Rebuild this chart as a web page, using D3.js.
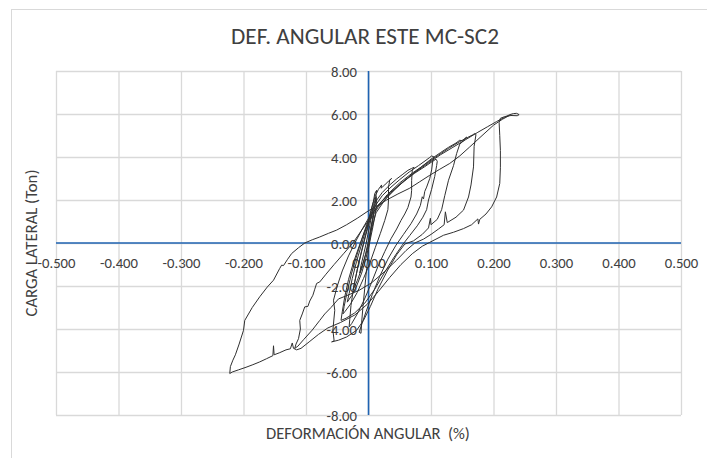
<!DOCTYPE html>
<html>
<head>
<meta charset="utf-8">
<script src="https://cdn.jsdelivr.net/npm/d3@7"></script>
<style>
  html, body { margin: 0; padding: 0; background: #fff; }
  svg { display: block; }
</style>
</head>
<body>
<svg id="chart" width="707" height="458"></svg>
<script>
// ---------- texts and ticks ----------
const titulo  = "DEF. ANGULAR ESTE MC-SC2";
const tituloX = "DEFORMACIÓN ANGULAR  (%)";
const tituloY = "CARGA LATERAL (Ton)";
const ticksX = [-0.5, -0.4, -0.3, -0.2, -0.1, 0, 0.1, 0.2, 0.3, 0.4, 0.5];
const ticksY = [-8, -6, -4, -2, 0, 2, 4, 6, 8];

// ---------- hysteresis record: [deformación angular (%), carga lateral (Ton)] ----------
const ciclo1 = [[0.000,0.00],[0.002,0.35],[0.004,0.75],[0.006,1.05],[0.008,1.30],[0.007,1.10],[0.004,0.55],[0.000,-0.05],[-0.004,-0.50],[-0.009,-0.95],[-0.014,-1.40],[-0.012,-1.05],[-0.008,-0.55],[-0.004,-0.05],[-0.001,0.40]];
const ciclo2 = [[0.002,0.80],[0.005,1.30],[0.008,1.75],[0.011,2.05],[0.012,2.15],[0.010,1.70],[0.006,1.00],[0.001,0.25],[-0.005,-0.55],[-0.011,-1.20],[-0.018,-1.75],[-0.025,-2.20],[-0.022,-1.80],[-0.017,-1.10],[-0.011,-0.35],[-0.005,0.35],[0.000,0.95]];
const ciclo3 = [[0.004,1.45],[0.008,1.95],[0.010,2.30],[0.013,2.45],[0.012,2.25],[0.013,1.90],[0.011,1.40],[0.007,0.75],[0.002,0.05],[-0.004,-0.70],[-0.011,-1.40],[-0.019,-2.00],[-0.027,-2.45],[-0.034,-2.75],[-0.031,-2.35],[-0.026,-1.65],[-0.019,-0.85],[-0.012,-0.15],[-0.005,0.55],[0.001,1.20]];
const ciclo4 = [[0.006,1.75],[0.011,2.20],[0.016,2.50],[0.021,2.70],[0.020,2.55],[0.026,2.70],[0.032,2.88],[0.037,3.00],[0.034,2.93],[0.032,2.60],[0.032,2.00],[0.031,1.55],[0.026,1.05],[0.019,0.45],[0.011,-0.20],[0.002,-0.95],[-0.008,-1.65],[-0.018,-2.30],[-0.029,-2.85],[-0.038,-3.20],[-0.041,-3.30],[-0.039,-2.95],[-0.034,-2.25],[-0.027,-1.40],[-0.019,-0.60],[-0.011,0.15],[-0.003,0.85]];
const ciclo5 = [[0.004,1.35],[0.012,1.95],[0.022,2.35],[0.034,2.70],[0.045,2.98],[0.055,3.20],[0.063,3.38],[0.069,3.47],[0.073,3.52],[0.070,3.40],[0.069,2.90],[0.069,2.45],[0.068,2.14],[0.063,1.65],[0.058,1.35],[0.052,1.05],[0.045,0.65],[0.036,0.20],[0.026,-0.40],[0.015,-1.10],[0.004,-1.90],[-0.007,-2.65],[-0.018,-3.30],[-0.027,-3.75],[-0.031,-3.90],[-0.030,-3.55],[-0.028,-2.90],[-0.024,-2.10],[-0.018,-1.25],[-0.011,-0.40],[-0.004,0.40],[0.002,1.05]];
const ciclo6 = [[0.010,1.70],[0.022,2.20],[0.036,2.60],[0.050,2.95],[0.065,3.30],[0.080,3.60],[0.092,3.85],[0.098,3.98],[0.101,4.05],[0.105,4.00],[0.103,3.85],[0.101,3.40],[0.098,3.00],[0.093,2.60],[0.090,2.40],[0.088,2.05],[0.086,2.15],[0.083,1.75],[0.077,1.35],[0.068,0.90],[0.056,0.40],[0.044,-0.10],[0.031,-0.75],[0.018,-1.55],[0.006,-2.40],[-0.004,-3.20],[-0.011,-3.80],[-0.015,-4.15],[-0.012,-4.20],[-0.011,-3.70],[-0.009,-3.00],[-0.006,-2.10],[-0.003,-1.20],[0.000,-0.30],[0.004,0.55]];
const ciclo7 = [[0.012,1.40],[0.026,2.00],[0.042,2.50],[0.058,2.90],[0.074,3.25],[0.090,3.55],[0.100,3.75],[0.108,3.90],[0.110,3.80],[0.109,3.60],[0.106,3.10],[0.101,2.50],[0.096,2.00],[0.093,1.55],[0.087,1.20],[0.078,0.80],[0.066,0.35],[0.054,-0.10],[0.040,-0.70],[0.025,-1.40],[0.010,-2.15],[-0.006,-2.80],[-0.022,-3.25],[-0.036,-3.50],[-0.044,-3.60],[-0.042,-3.20],[-0.038,-2.50],[-0.032,-1.70],[-0.024,-0.90],[-0.015,-0.15],[-0.006,0.55],[0.002,1.05]];
const ciclo8 = [[0.015,1.65],[0.032,2.20],[0.050,2.70],[0.068,3.15],[0.085,3.55],[0.100,3.90],[0.115,4.20],[0.128,4.45],[0.140,4.65],[0.146,4.78],[0.150,4.75],[0.157,4.93],[0.154,4.80],[0.146,4.60],[0.141,4.16],[0.136,3.60],[0.128,2.92],[0.122,2.20],[0.117,1.55],[0.110,1.10],[0.100,0.85],[0.099,1.15],[0.096,0.70],[0.086,0.40],[0.072,0.10],[0.058,-0.05],[0.045,-0.55],[0.030,-1.30],[0.015,-2.15],[0.003,-2.95],[-0.008,-3.60],[-0.019,-4.06],[-0.035,-4.37],[-0.048,-4.52],[-0.059,-4.60],[-0.055,-4.55],[-0.057,-4.06],[-0.054,-3.13],[-0.056,-2.66],[-0.050,-2.00],[-0.042,-1.30],[-0.032,-0.60],[-0.021,0.05],[-0.010,0.65],[0.000,1.15]];
const ciclo9 = [[0.012,1.60],[0.030,2.25],[0.050,2.80],[0.070,3.25],[0.090,3.65],[0.110,4.05],[0.128,4.40],[0.145,4.70],[0.158,4.90],[0.166,5.02],[0.170,5.09],[0.172,5.05],[0.169,4.50],[0.168,3.54],[0.164,2.70],[0.160,2.14],[0.152,1.53],[0.140,1.20],[0.126,0.95],[0.123,1.45],[0.121,0.85],[0.112,0.65],[0.100,0.40],[0.088,0.18],[0.074,0.00],[0.060,-0.35],[0.045,-0.80],[0.025,-1.35],[0.005,-1.85],[-0.015,-2.20],[-0.035,-2.45],[-0.048,-2.60],[-0.060,-3.00],[-0.070,-3.30],[-0.078,-3.60],[-0.090,-4.05],[-0.104,-4.50],[-0.113,-4.80],[-0.118,-4.90],[-0.116,-4.70],[-0.112,-4.45],[-0.109,-4.00],[-0.110,-3.60],[-0.106,-3.30],[-0.102,-2.97],[-0.097,-2.95],[-0.094,-2.70],[-0.089,-2.43],[-0.086,-2.15],[-0.083,-1.88],[-0.078,-1.81],[-0.068,-1.45],[-0.055,-1.00],[-0.040,-0.50],[-0.025,0.00],[-0.012,0.55],[0.000,1.05]];
const ciclo10 = [[0.015,1.75],[0.035,2.35],[0.055,2.85],[0.075,3.30],[0.095,3.70],[0.115,4.10],[0.135,4.45],[0.155,4.80],[0.175,5.15],[0.190,5.40],[0.205,5.65],[0.218,5.85],[0.226,5.97],[0.232,6.02],[0.237,6.03],[0.241,5.97],[0.238,5.92],[0.228,5.93],[0.218,5.88],[0.211,5.80],[0.209,5.60],[0.210,5.00],[0.211,4.30],[0.211,3.50],[0.210,2.77],[0.205,2.14],[0.197,1.68],[0.188,1.35],[0.178,1.10],[0.176,0.88],[0.175,1.12],[0.165,0.85],[0.152,0.67],[0.136,0.50],[0.120,0.36],[0.108,0.18],[0.098,0.03],[0.086,-0.15],[0.070,-0.50],[0.052,-1.00],[0.034,-1.60],[0.016,-2.25],[-0.002,-2.85],[-0.022,-3.35],[-0.045,-3.70],[-0.065,-3.95],[-0.080,-4.25],[-0.095,-4.60],[-0.108,-4.90],[-0.115,-4.97],[-0.120,-4.90],[-0.122,-4.65],[-0.125,-4.92],[-0.132,-4.97],[-0.142,-5.10],[-0.151,-5.20],[-0.152,-4.78],[-0.153,-5.24],[-0.163,-5.38],[-0.174,-5.53],[-0.185,-5.66],[-0.196,-5.78],[-0.208,-5.90],[-0.218,-6.00],[-0.222,-6.07],[-0.221,-5.75],[-0.217,-5.45],[-0.213,-5.20],[-0.207,-4.70],[-0.200,-4.06],[-0.198,-3.60],[-0.186,-3.00],[-0.174,-2.50],[-0.162,-2.05],[-0.152,-1.73],[-0.142,-1.18],[-0.139,-1.03],[-0.136,-1.05],[-0.130,-0.78],[-0.123,-0.49],[-0.112,-0.22],[-0.102,0.00],[-0.090,0.15],[-0.078,0.28],[-0.064,0.45],[-0.051,0.60],[-0.035,0.85],[-0.018,1.15],[0.000,1.50],[0.015,1.75],[0.029,2.00],[0.047,2.28],[0.066,2.55],[0.082,2.85],[0.098,3.15],[0.114,3.43],[0.130,3.70],[0.146,4.05],[0.162,4.47],[0.180,4.95],[0.200,5.48],[0.214,5.75],[0.226,5.94]];

const ciclos = [ciclo1, ciclo2, ciclo3, ciclo4, ciclo5, ciclo6, ciclo7, ciclo8, ciclo9, ciclo10];
const registro = ciclos.flat();

// ---------- layout ----------
const svg = d3.select("#chart");
const FONT = "Carlito, Calibri, Lato, 'Open Sans', sans-serif";
const GRID = "#d9d9d9";
const AXIS_BLUE = "#1f63b2";
const TEXT = "#404040";

const x = d3.scaleLinear().domain([-0.5, 0.5]).range([56, 681]);
const y = d3.scaleLinear().domain([-8, 8]).range([415, 71]);

// scale a text's font size so it spans the wanted width
function fitWidth(sel, w) {
  const n = sel.node();
  const fs = parseFloat(sel.attr("font-size"));
  const cur = n.getComputedTextLength();
  if (cur > 0) sel.attr("font-size", (fs * w / cur).toFixed(2));
}

// chart-area frame
svg.append("rect")
  .attr("x", 11.5).attr("y", 9.5)
  .attr("width", 900).attr("height", 700)
  .attr("fill", "#fff").attr("stroke", GRID).attr("stroke-width", 1);

// gridlines
svg.append("g")
  .attr("transform", `translate(0,${y(-8)})`)
  .call(d3.axisBottom(x).tickValues(ticksX).tickFormat("").tickSize(-(y(-8) - y(8))))
  .call(g => g.select(".domain").remove())
  .call(g => g.selectAll("line").attr("stroke", GRID).attr("stroke-width", 1.3));

svg.append("g")
  .attr("transform", `translate(${x(-0.5)},0)`)
  .call(d3.axisLeft(y).tickValues(ticksY).tickFormat("").tickSize(-(x(0.5) - x(-0.5))))
  .call(g => g.select(".domain").remove())
  .call(g => g.selectAll("line").attr("stroke", GRID).attr("stroke-width", 1.3));

// axes through the origin
svg.append("line")
  .attr("x1", x(-0.5)).attr("x2", x(0.5)).attr("y1", y(0)).attr("y2", y(0))
  .attr("stroke", AXIS_BLUE).attr("stroke-width", 1.6);
svg.append("line")
  .attr("x1", x(0)).attr("x2", x(0)).attr("y1", y(8)).attr("y2", y(-8))
  .attr("stroke", AXIS_BLUE).attr("stroke-width", 1.6);

// tick label size: "-0.500" spans about 38px
const probe = svg.append("text").attr("font-family", FONT).attr("font-size", 14).text("-0.500");
fitWidth(probe, 38);
const tickSize = +probe.attr("font-size");
probe.remove();

// x tick labels, just under the horizontal axis
const gx = svg.append("g")
  .attr("transform", `translate(0,${y(0)})`)
  .call(d3.axisBottom(x).tickValues(ticksX).tickSize(0).tickFormat(d => d.toFixed(3)));
gx.select(".domain").remove();
gx.selectAll("text")
  .attr("y", 24.5).attr("dy", null)
  .attr("font-family", FONT).attr("font-size", tickSize).attr("fill", TEXT);

// y tick labels, left of the vertical axis
const gy = svg.append("g")
  .attr("transform", `translate(${x(0)},0)`)
  .call(d3.axisLeft(y).tickValues(ticksY).tickSize(0).tickPadding(11.5).tickFormat(d => d.toFixed(2)));
gy.select(".domain").remove();
gy.selectAll("text")
  .attr("dy", "0.35em")
  .attr("font-family", FONT).attr("font-size", tickSize).attr("fill", TEXT);

// titles
const t = svg.append("text")
  .attr("x", 365).attr("y", 43.5).attr("text-anchor", "middle")
  .attr("font-family", FONT).attr("font-size", 22).attr("fill", TEXT)
  .text(titulo);
fitWidth(t, 268);

const tx = svg.append("text")
  .attr("x", 368).attr("y", 439).attr("text-anchor", "middle")
  .attr("font-family", FONT).attr("font-size", 16).attr("fill", TEXT)
  .style("white-space", "pre")
  .text(tituloX);
fitWidth(tx, 204);

const ty = svg.append("text")
  .attr("transform", "translate(37,243) rotate(-90)")
  .attr("text-anchor", "middle")
  .attr("font-family", FONT).attr("font-size", 16).attr("fill", TEXT)
  .text(tituloY);
fitWidth(ty, 147);

// load–deformation curve
const linea = d3.line()
  .x(d => x(d[0]))
  .y(d => y(d[1]));

svg.append("path")
  .datum(registro)
  .attr("fill", "none")
  .attr("stroke", "#303030")
  .attr("stroke-width", 1)
  .attr("stroke-linejoin", "round")
  .attr("d", linea);
</script>
</body>
</html>
